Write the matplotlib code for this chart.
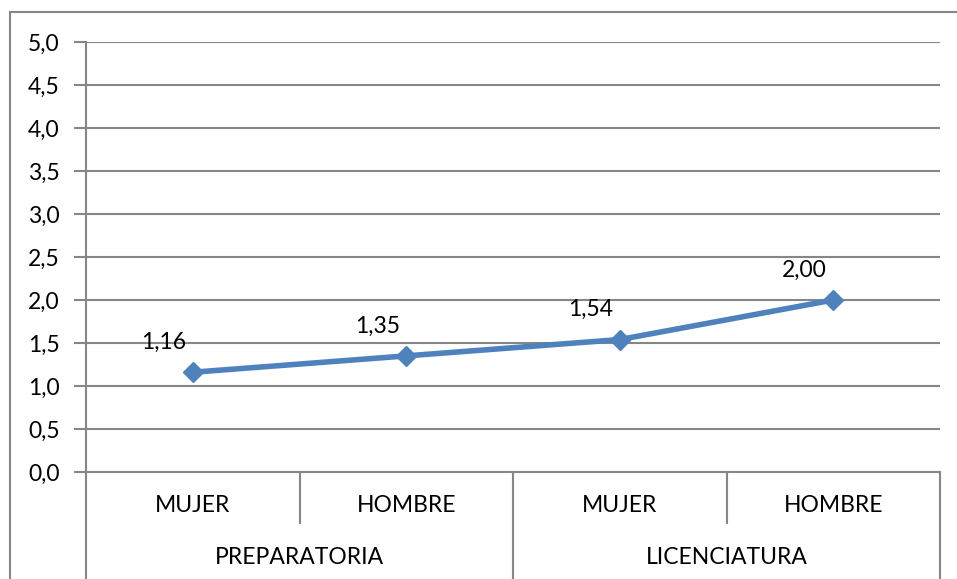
import numpy as np
import matplotlib
matplotlib.use("Agg")
import matplotlib.pyplot as plt
from matplotlib.patches import Rectangle
from matplotlib.transforms import blended_transform_factory

# Data
genders = ["MUJER", "HOMBRE", "MUJER", "HOMBRE"]
levels = ["PREPARATORIA", "LICENCIATURA"]
values = [1.16, 1.35, 1.54, 2.00]
yticks = [0.0, 0.5, 1.0, 1.5, 2.0, 2.5, 3.0, 3.5, 4.0, 4.5, 5.0]

plt.rcParams["font.family"] = ["Lato", "DejaVu Sans"]

W, H = 957, 579
fig = plt.figure(figsize=(W / 100, H / 100), dpi=100)
ax = fig.add_axes([86 / W, (H - 472) / H, (940 - 86) / W, (472 - 42) / H])

grid_color = "#868686"
blue = "#4F81BD"
fs = 16.5

# outer chart border (extends off the image on the right/bottom)
fig.patches.append(Rectangle((10 / W, -0.2), 1.2, (H - 12) / H + 0.2,
                             transform=fig.transFigure, fill=False,
                             edgecolor=grid_color, linewidth=1.5))

x = np.arange(len(values))
ax.set_xlim(-0.5, len(values) - 0.5)
ax.set_ylim(0, 5)
ax.set_yticks(yticks)
ax.set_yticklabels([f"{t:.1f}".replace(".", ",") for t in yticks], fontsize=fs)
ax.yaxis.grid(True, color=grid_color, linewidth=1.5)
ax.set_axisbelow(True)
ax.tick_params(axis="y", length=9, width=1.5, color=grid_color, pad=10)
ax.set_xticks([])
for s in ["top", "right"]:
    ax.spines[s].set_visible(False)
ax.spines["left"].set_color(grid_color)
ax.spines["left"].set_linewidth(1.5)
ax.spines["bottom"].set_color(grid_color)
ax.spines["bottom"].set_linewidth(1.5)

ax.plot(x, values, color=blue, linewidth=4, marker="D", markersize=10,
        markeredgecolor=blue, markerfacecolor=blue, clip_on=False, zorder=3)

for xi, v in zip(x, values):
    ax.annotate(f"{v:.2f}".replace(".", ","), (xi, v), xytext=(-29, 30),
                textcoords="offset pixels", ha="center", va="center",
                fontsize=fs, color="black")

# multi-level category axis
tr = blended_transform_factory(ax.transData, ax.transAxes)
inner = -51 / 430
outer = -0.4
for b in [0.5, 2.5]:
    ax.plot([b, b], [0, inner], color=grid_color, linewidth=1.5,
            transform=tr, clip_on=False)
for b in [-0.5, 1.5, 3.5]:
    ax.plot([b, b], [0, outer], color=grid_color, linewidth=1.5,
            transform=tr, clip_on=False)
for xi, g in zip(x, genders):
    ax.text(xi, -34 / 430, g, transform=tr, ha="center", va="center", fontsize=fs)
for i, lev in enumerate(levels):
    ax.text(2 * i + 0.5, -86 / 430, lev, transform=tr, ha="center", va="center",
            fontsize=fs)

fig.savefig("out.png", dpi=100)
